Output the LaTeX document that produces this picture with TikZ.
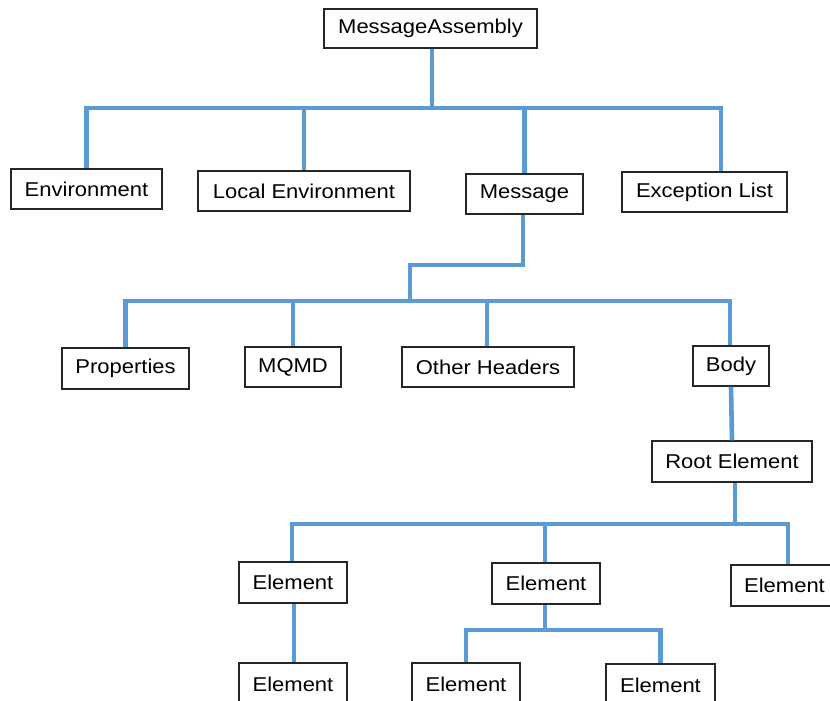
\documentclass[tikz,border=0pt]{standalone}
\usepackage{fontspec}
\setmainfont{Liberation Sans}[FakeStretch=1.1]
\begin{document}
\begin{tikzpicture}[x=1pt,y=-1pt,
  box/.style={draw=black!85,line width=1.2pt,fill=white,inner sep=0pt,
    font=\fontsize{20}{22}\selectfont,text=black},
  conn/.style={draw={rgb,255:red,91;green,155;blue,213},line width=4.6pt,line join=miter}]
\useasboundingbox (0,0) rectangle (830,701);
\clip (0,0) rectangle (830,701);
\fill[white] (0,0) rectangle (830,701);
% coordinates of the buses
\coordinate (b1) at (0,108);
\coordinate (bm) at (0,265);
\coordinate (b2) at (0,301);
\coordinate (b3) at (0,524);
\coordinate (b4) at (0,630);
% nodes
\node[box,minimum width=213,minimum height=39] (ma) at (430.5,28.5) {MessageAssembly};
\node[box,minimum width=151,minimum height=40] (env) at (86.5,189) {Environment};
\node[box,minimum width=212,minimum height=40] (le) at (304,191) {Local Environment};
\node[box,minimum width=117,minimum height=40] (msg) at (524.5,194) {Message};
\node[box,minimum width=165,minimum height=40] (exc) at (704.5,192) {Exception List};
\node[box,minimum width=127,minimum height=41] (prop) at (125.5,368.5) {Properties};
\node[box,minimum width=96,minimum height=40] (mqmd) at (293,367) {MQMD};
\node[box,minimum width=172,minimum height=40] (oh) at (488,367) {Other Headers};
\node[box,minimum width=76,minimum height=40] (body) at (731,366) {Body};
\node[box,minimum width=160,minimum height=41] (root) at (732,461.5) {Root Element};
\node[box,minimum width=108,minimum height=41] (e1) at (293,582.5) {Element};
\node[box,minimum width=108,minimum height=41] (e2) at (546,583.5) {Element};
\node[box,minimum width=107,minimum height=41] (e3) at (784.5,585.5) {Element};
\node[box,minimum width=108,minimum height=42] (e4) at (293,684) {Element};
\node[box,minimum width=108,minimum height=42] (e5) at (466,684) {Element};
\node[box,minimum width=109,minimum height=42] (e6) at (660.5,685) {Element};
% connectors level 1
\draw[conn] ([xshift=1.5pt]ma.south) -- ([xshift=1.5pt]ma.south |- b1);
\draw[conn] (env.north) -- (env.north |- b1) -- ([xshift=16.5pt]exc.north |- b1) -- ([xshift=16.5pt]exc.north);
\draw[conn] (le.north) -- (le.north |- b1);
\draw[conn] (msg.north) -- (msg.north |- b1);
% level 2
\draw[conn] ([xshift=-1.5pt]msg.south) -- ([xshift=-1.5pt]msg.south |- bm) -- ([xshift=-114.5pt]msg.south |- bm) -- ([xshift=-114.5pt]msg.south |- b2);
\draw[conn] (prop.north) -- (prop.north |- b2) -- ([xshift=-1pt]body.north |- b2) -- ([xshift=-1pt]body.north);
\draw[conn] (mqmd.north) -- (mqmd.north |- b2);
\draw[conn] ([xshift=-1pt]oh.north) -- ([xshift=-1pt]oh.north |- b2);
% body to root
\draw[conn] (body.south) -- (root.north);
% level 3
\draw[conn] ([xshift=3pt]root.south) -- ([xshift=3pt]root.south |- b3);
\draw[conn] ([xshift=-1pt]e1.north) -- ([xshift=-1pt]e1.north |- b3) -- ([xshift=3.5pt]e3.north |- b3) -- ([xshift=3.5pt]e3.north);
\draw[conn] ([xshift=-1pt]e2.north) -- ([xshift=-1pt]e2.north |- b3);
% level 4
\draw[conn] ([xshift=1pt]e1.south) -- ([xshift=1pt]e4.north);
\draw[conn] ([xshift=-1pt]e2.south) -- ([xshift=-1pt]e2.south |- b4);
\draw[conn] (e5.north) -- (e5.north |- b4) -- (e6.north |- b4) -- (e6.north);
\end{tikzpicture}
\end{document}
